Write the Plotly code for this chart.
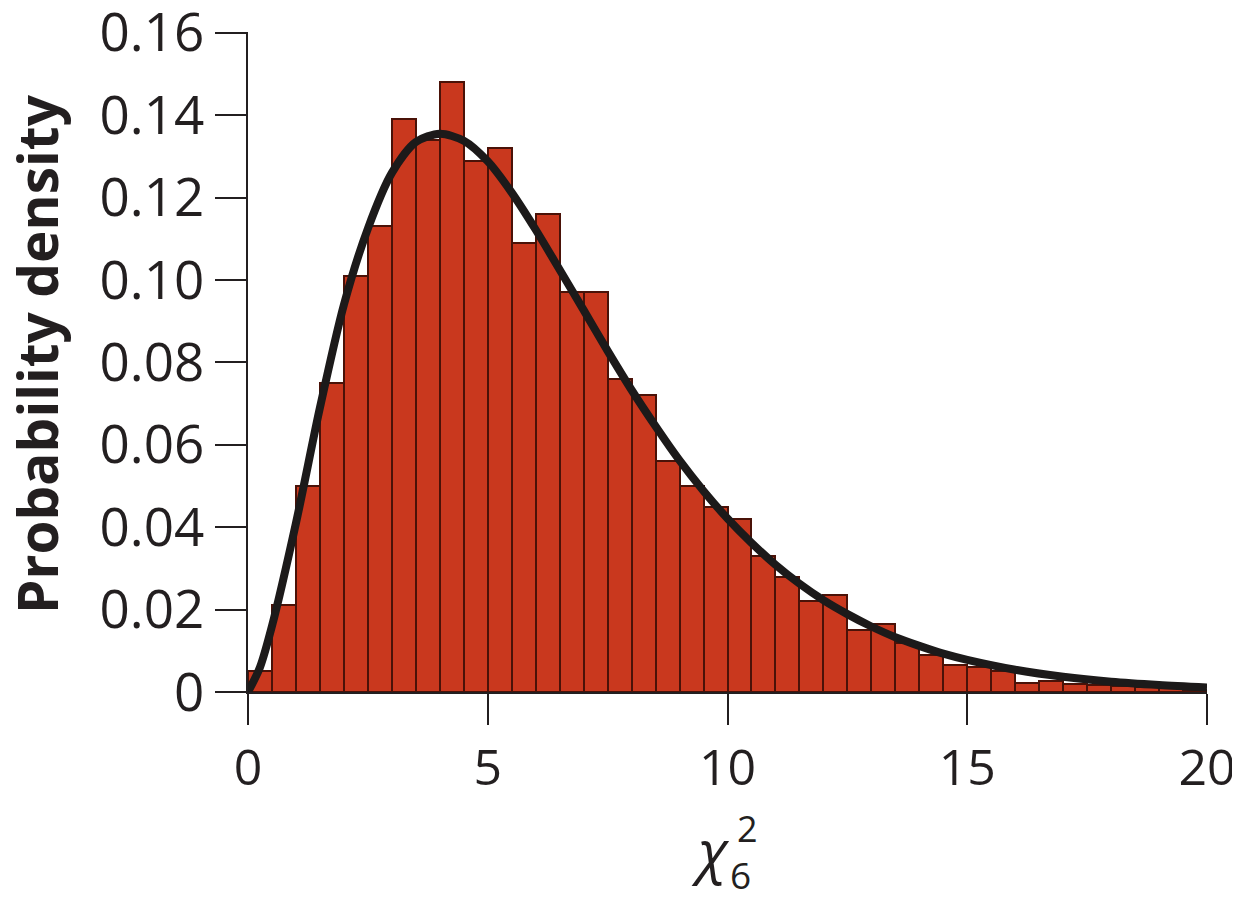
import plotly.graph_objects as go

# Histogram bins (left edge, width 0.5) and observed density
bin_left = [0.0, 0.5, 1.0, 1.5, 2.0, 2.5, 3.0, 3.5, 4.0, 4.5,
            5.0, 5.5, 6.0, 6.5, 7.0, 7.5, 8.0, 8.5, 9.0, 9.5,
            10.0, 10.5, 11.0, 11.5, 12.0, 12.5, 13.0, 13.5, 14.0, 14.5,
            15.0, 15.5, 16.0, 16.5, 17.0, 17.5, 18.0, 18.5, 19.0, 19.5]
bin_density = [0.005, 0.021, 0.050, 0.075, 0.101, 0.113, 0.139, 0.134, 0.148, 0.129,
               0.132, 0.109, 0.116, 0.097, 0.097, 0.076, 0.072, 0.056, 0.050, 0.045,
               0.042, 0.033, 0.028, 0.022, 0.0235, 0.015, 0.0165, 0.012, 0.009, 0.0066,
               0.006, 0.005, 0.0023, 0.0027, 0.002, 0.0018, 0.0015, 0.0012, 0.0009, 0.0006]
bin_width = 0.5

# Density curve
curve_x = [0, 0.25, 0.5, 1, 1.5, 2, 2.5, 3, 3.5, 4, 4.5, 5, 5.5, 6, 6.5, 7, 7.5, 8, 8.5,
           9, 9.5, 10, 10.5, 11, 11.5, 12, 12.5, 13, 13.5, 14, 14.5, 15, 16, 17, 18, 19, 20]
curve_y = [0, 0.006, 0.016, 0.041, 0.069, 0.094, 0.1125, 0.126, 0.1335, 0.1355, 0.1338,
           0.1288, 0.1212, 0.1122, 0.1025, 0.0927, 0.0828, 0.0733, 0.0645, 0.0562, 0.0488,
           0.0421, 0.0362, 0.0309, 0.0263, 0.0223, 0.0189, 0.0159, 0.0133, 0.0112, 0.0093,
           0.0078, 0.0054, 0.0037, 0.0025, 0.0017, 0.0011]

y_ticks = [0, 0.02, 0.04, 0.06, 0.08, 0.10, 0.12, 0.14, 0.16]
y_labels = ["0", "0.02", "0.04", "0.06", "0.08", "0.10", "0.12", "0.14", "0.16"]
x_ticks = [0, 5, 10, 15, 20]

# the page body has an 8px margin, so the figure sits at (8, 8) in the window
OFF = 8
W, H = 1240, 906
L, R, T, B = 248 - OFF, 41, 32 - OFF, 222
font = "Open Sans, DejaVu Sans, sans-serif"
ink = "#231f20"

fig = go.Figure()

fig.add_trace(go.Bar(
    x=[b + bin_width / 2 for b in bin_left],
    y=bin_density,
    width=bin_width,
    marker=dict(color="#c9381e", line=dict(color="#4a1208", width=2)),
    hoverinfo="skip",
))

fig.add_trace(go.Scatter(
    x=curve_x,
    y=curve_y,
    mode="lines",
    line=dict(color="#1c1a1a", width=8, shape="spline", smoothing=0.8),
    hoverinfo="skip",
))

fig.update_layout(
    width=W,
    height=H,
    margin=dict(l=L, r=R, t=T, b=B),
    plot_bgcolor="white",
    paper_bgcolor="white",
    showlegend=False,
    bargap=0,
    font=dict(family=font, color=ink),
    xaxis=dict(
        range=[0, 20],
        tickvals=x_ticks,
        ticks="outside", ticklen=31, tickwidth=2, tickcolor=ink,
        showline=True, linecolor=ink, linewidth=2,
        showgrid=False, zeroline=False, automargin=False,
        ticklabeloverflow="allow",
        tickfont=dict(size=50),
    ),
    yaxis=dict(
        range=[0, 0.1602],
        tickvals=y_ticks, ticktext=y_labels,
        ticks="outside", ticklen=31, tickwidth=2, tickcolor=ink,
        showline=True, linecolor=ink, linewidth=2,
        showgrid=False, zeroline=False, automargin=False,
        ticklabeloverflow="allow",
        tickfont=dict(size=53),
    ),
)


def px_annot(text, x, y, size, **kw):
    # place a text by window pixel position
    x, y = x - OFF, y - OFF
    fig.add_annotation(
        text=text, xref="paper", yref="paper",
        x=(x - L) / (W - L - R), y=(H - B - y) / (H - T - B),
        xanchor="center", yanchor="middle", showarrow=False,
        font=dict(size=size, family=font, color=ink), **kw,
    )


# y-axis title
px_annot("<b>Probability density</b>", 36, 354, 55, textangle=-90)

# x-axis label: chi with stacked super/subscript
px_annot("<i>χ</i>", 710, 849, 58)
px_annot("2", 747, 828, 36)
px_annot("6", 740, 874, 37)

fig.write_html("out.html")
